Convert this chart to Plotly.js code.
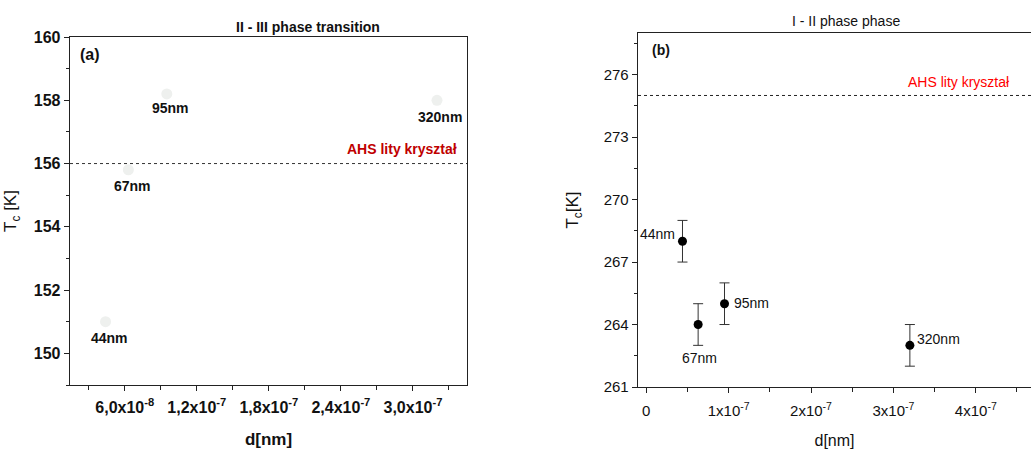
<!DOCTYPE html>
<html>
<head>
<meta charset="utf-8">
<script src="https://cdn.plot.ly/plotly-3.0.1.min.js"></script>
<style>
  html, body { margin: 0; padding: 0; background: #fff; }
  #chart { width: 1031px; height: 453px; }
</style>
</head>
<body>
<div id="chart"></div>
<script>
// Sample sizes (grain diameter) in metres and their labels
const sizeLabels = ["44nm", "67nm", "95nm", "320nm"];
const diameters = [4.4e-8, 6.3e-8, 9.5e-8, 3.2e-7];

// II - III transition temperatures
const tcPhase23 = [151.0, 155.8, 158.2, 158.0];
const bulkTc23 = 156;

// I - II transition temperatures with uncertainties
const tcPhase12 = [268, 264, 265, 263];
const tcPhase12Err = [1, 1, 1, 1];
const bulkTc12 = 275;

const bulkLabel = "AHS lity kryształ";

// Tick labels
const ticksA_x = [6e-8, 1.2e-7, 1.8e-7, 2.4e-7, 3.0e-7];
const ticksA_xText = ["6,0x10<sup>-8</sup>", "1,2x10<sup>-7</sup>", "1,8x10<sup>-7</sup>", "2,4x10<sup>-7</sup>", "3,0x10<sup>-7</sup>"];
const ticksA_y = [150, 152, 154, 156, 158, 160];
const ticksB_x = [0, 1e-7, 2e-7, 3e-7, 4e-7];
const ticksB_xText = ["0", "1x10<sup>-7</sup>", "2x10<sup>-7</sup>", "3x10<sup>-7</sup>", "4x10<sup>-7</sup>"];
const ticksB_y = [261, 264, 267, 270, 273, 276];

// Label offsets (px) relative to each point
const offA = [[4, -16], [4, -16], [4, -14], [3, -17]];
const offB = [[-25, 7], [1, -33], [27, 1], [29, 6]];

const fontA = "Liberation Sans, Arial, sans-serif";
const fontB = "Arial, Liberation Sans, sans-serif";

const traces = [
  {
    x: diameters, y: tcPhase23, xaxis: "x", yaxis: "y",
    type: "scatter", mode: "markers",
    marker: { color: "#eef0ee", size: 11 },
    showlegend: false
  },
  {
    x: diameters, y: tcPhase12, xaxis: "x2", yaxis: "y2",
    type: "scatter", mode: "markers",
    marker: { color: "#000", size: 9 },
    error_y: { type: "data", array: tcPhase12Err, visible: true, color: "#333", thickness: 1, width: 5 },
    showlegend: false
  }
];

const annotations = [];
sizeLabels.forEach((t, i) => {
  annotations.push({
    xref: "x", yref: "y", x: diameters[i], y: tcPhase23[i], text: t,
    showarrow: false, xshift: offA[i][0], yshift: offA[i][1],
    font: { family: fontA, size: 14, color: "#111", weight: "bold" }
  });
  annotations.push({
    xref: "x2", yref: "y2", x: diameters[i], y: tcPhase12[i], text: t,
    showarrow: false, xshift: offB[i][0], yshift: offB[i][1],
    font: { family: fontB, size: 14, color: "#111" }
  });
});

annotations.push(
  { xref: "x domain", yref: "y", x: 0.98, y: bulkTc23, yshift: 15, xanchor: "right", yanchor: "middle",
    text: bulkLabel, showarrow: false, font: { family: fontA, size: 14, color: "#c00000", weight: "bold" } },
  { xref: "x2 domain", yref: "y2", x: 0.817, y: bulkTc12, yshift: 13, xanchor: "center", yanchor: "middle",
    text: bulkLabel, showarrow: false, font: { family: fontB, size: 14, color: "#ff0000" } },
  { xref: "x domain", yref: "y domain", x: 0.02, y: 0.98, xanchor: "left", yanchor: "top",
    text: "(a)", showarrow: false, font: { family: fontA, size: 16, color: "#111", weight: "bold" } },
  { xref: "x2 domain", yref: "y2 domain", x: 0.03, y: 0.98, xanchor: "left", yanchor: "top",
    text: "(b)", showarrow: false, font: { family: fontB, size: 14, color: "#111", weight: "bold" } },
  { xref: "paper", yref: "paper", x: 308 / 1031, y: 1 - 27 / 453, xanchor: "center", yanchor: "middle",
    text: "II - III phase transition", showarrow: false, font: { family: fontA, size: 14, color: "#111", weight: "bold" } },
  { xref: "paper", yref: "paper", x: 846 / 1031, y: 1 - 21 / 453, xanchor: "center", yanchor: "middle",
    text: "I - II phase phase", showarrow: false, font: { family: fontB, size: 14, color: "#111" } }
);

const axisCommon = {
  showgrid: false, zeroline: false, showline: true, linecolor: "#222", linewidth: 1.3,
  ticks: "outside", ticklen: 5, tickcolor: "#222", tickwidth: 1
};

const layout = {
  width: 1031, height: 453,
  margin: { l: 0, r: 0, t: 0, b: 0 },
  paper_bgcolor: "#fff", plot_bgcolor: "#fff",
  showlegend: false,
  xaxis: Object.assign({}, axisCommon, {
    domain: [70 / 1031, 467 / 1031], range: [1.44e-8, 3.45e-7], anchor: "y", mirror: true,
    tickmode: "array", tickvals: ticksA_x, ticktext: ticksA_xText, ticklabelstandoff: 2,
    tickfont: { family: fontA, size: 16, color: "#111", weight: "bold" },
    minor: { ticks: "outside", ticklen: 4, tick0: 3e-8, dtick: 6e-8, tickcolor: "#222" },
    title: { text: "d[nm]", standoff: 18, font: { family: fontA, size: 17, color: "#111", weight: "bold" } }
  }),
  yaxis: Object.assign({}, axisCommon, {
    domain: [(453 - 385) / 453, (453 - 37) / 453], range: [149, 160], anchor: "x", mirror: true,
    tickmode: "array", tickvals: ticksA_y,
    tickfont: { family: fontA, size: 16, color: "#111", weight: "bold" },
    minor: { ticks: "outside", ticklen: 3, tick0: 149, dtick: 2, tickcolor: "#222" },
    title: { text: "T<sub>c</sub> [K]", standoff: 12, font: { family: fontA, size: 17, color: "#111" } }
  }),
  xaxis2: Object.assign({}, axisCommon, {
    domain: [638 / 1031, 1], range: [-1.0e-8, 4.67e-7], anchor: "y2", mirror: true,
    tickmode: "array", tickvals: ticksB_x, ticktext: ticksB_xText, ticklabelstandoff: 5,
    tickfont: { family: fontB, size: 15, color: "#111" },
    minor: { ticks: "outside", ticklen: 4, tick0: 5e-8, dtick: 1e-7, tickcolor: "#222" },
    title: { text: "d[nm]", standoff: 16, font: { family: fontB, size: 16, color: "#111" } }
  }),
  yaxis2: Object.assign({}, axisCommon, {
    domain: [(453 - 387) / 453, (453 - 33) / 453], range: [261, 278], anchor: "x2", mirror: false,
    tickmode: "array", tickvals: ticksB_y,
    tickfont: { family: fontB, size: 15, color: "#111" },
    minor: { ticks: "outside", ticklen: 3, tick0: 262.5, dtick: 3, tickcolor: "#222" },
    title: { text: "T<sub>c</sub>[K]", standoff: 20, font: { family: fontB, size: 17, color: "#111" } }
  }),
  shapes: [
    { type: "line", xref: "x domain", yref: "y", x0: 0, x1: 1, y0: bulkTc23, y1: bulkTc23,
      line: { color: "#333", width: 1, dash: "dot" } },
    { type: "line", xref: "x2 domain", yref: "y2", x0: 0, x1: 1, y0: bulkTc12, y1: bulkTc12,
      line: { color: "#222", width: 1, dash: "dot" } }
  ],
  annotations: annotations
};

Plotly.newPlot("chart", traces, layout, { displayModeBar: false, staticPlot: true });
</script>
</body>
</html>
